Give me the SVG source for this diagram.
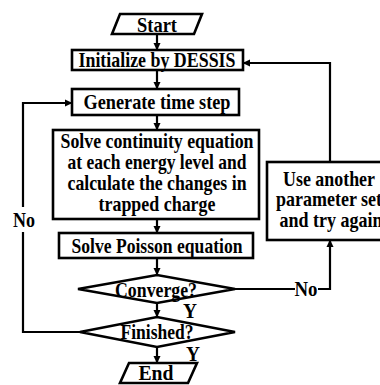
<svg xmlns="http://www.w3.org/2000/svg" width="380" height="385" viewBox="0 0 380 385">
<defs>
<style>
.s{fill:#fff;stroke:#000;stroke-width:2.6}
.t{font-family:"Liberation Serif","Times New Roman",serif;font-weight:bold;font-size:21px;text-anchor:middle;fill:#000}
.c{fill:none;stroke:#000;stroke-width:2.2}
</style>
<marker id="ah" markerWidth="8" markerHeight="8" refX="7" refY="4" orient="auto" markerUnits="userSpaceOnUse">
<path d="M0,0.5 L7.5,4 L0,7.5 Z" fill="#000"/>
</marker>
</defs>
<rect width="380" height="385" fill="#fff"/>
<g id="connectors">
<path class="c" d="M157,34 V50" marker-end="url(#ah)"/>
<path class="c" d="M157,70 V89" marker-end="url(#ah)"/>
<path class="c" d="M157,115 V130" marker-end="url(#ah)"/>
<path class="c" d="M157,219 V233" marker-end="url(#ah)"/>
<path class="c" d="M157,258 V275" marker-end="url(#ah)"/>
<path class="c" d="M157,303 V317" marker-end="url(#ah)"/>
<path class="c" d="M157,347 V363" marker-end="url(#ah)"/>
<path class="c" d="M80,332 H23 V232"/>
<path class="c" d="M23,207 V103 H72" marker-end="url(#ah)"/>
<path class="c" d="M235,289 H295"/>
<path class="c" d="M318,289 H330 V240" marker-end="url(#ah)"/>
<path class="c" d="M330,162 V63 H243" marker-end="url(#ah)"/>
<text class="t" x="24" y="227" textLength="22" lengthAdjust="spacingAndGlyphs">No</text>
<text class="t" x="306" y="296" textLength="23" lengthAdjust="spacingAndGlyphs">No</text>
<text class="t" x="190" y="318" textLength="14" lengthAdjust="spacingAndGlyphs">Y</text>
<text class="t" x="193" y="361" textLength="14" lengthAdjust="spacingAndGlyphs">Y</text>
</g>
<g id="start">
<polygon class="s" points="120,14 202,14 194,34 112,34"/>
<text class="t" x="157" y="32" textLength="40" lengthAdjust="spacingAndGlyphs">Start</text>
</g>
<g id="init">
<rect class="s" x="72" y="50" width="171" height="20"/>
<text class="t" x="157" y="67" textLength="157" lengthAdjust="spacingAndGlyphs">Initialize by DESSIS</text>
</g>
<g id="gen">
<rect class="s" x="72" y="89" width="167" height="26"/>
<text class="t" x="157" y="109" textLength="147" lengthAdjust="spacingAndGlyphs">Generate time step</text>
</g>
<g id="solve">
<rect class="s" x="53" y="130" width="206" height="89"/>
<text class="t" x="157" y="148" textLength="193" lengthAdjust="spacingAndGlyphs">Solve continuity equation</text>
<text class="t" x="157" y="169" textLength="179" lengthAdjust="spacingAndGlyphs">at each energy level and</text>
<text class="t" x="157" y="190" textLength="179" lengthAdjust="spacingAndGlyphs">calculate the changes in</text>
<text class="t" x="157" y="211" textLength="117" lengthAdjust="spacingAndGlyphs">trapped charge</text>
</g>
<g id="poisson">
<rect class="s" x="59" y="233" width="194" height="25"/>
<text class="t" x="157" y="253" textLength="171" lengthAdjust="spacingAndGlyphs">Solve Poisson equation</text>
</g>
<g id="converge">
<polygon class="s" points="78,289 157,275 235,289 157,303"/>
<text class="t" x="156" y="297" textLength="82" lengthAdjust="spacingAndGlyphs">Converge?</text>
</g>
<g id="finished">
<polygon class="s" points="80,332 157,317 235,332 157,347"/>
<text class="t" x="157" y="339" textLength="73" lengthAdjust="spacingAndGlyphs">Finished?</text>
</g>
<g id="end">
<polygon class="s" points="129,363 197,363 188,383 120,383"/>
<text class="t" x="156" y="380" textLength="35" lengthAdjust="spacingAndGlyphs">End</text>
</g>
<g id="retry">
<rect class="s" x="267" y="162" width="124" height="78"/>
<text class="t" x="329" y="186" textLength="92" lengthAdjust="spacingAndGlyphs">Use another</text>
<text class="t" x="329" y="206" textLength="106" lengthAdjust="spacingAndGlyphs">parameter set</text>
<text class="t" x="331" y="227" textLength="103" lengthAdjust="spacingAndGlyphs">and try again</text>
</g>
</svg>
